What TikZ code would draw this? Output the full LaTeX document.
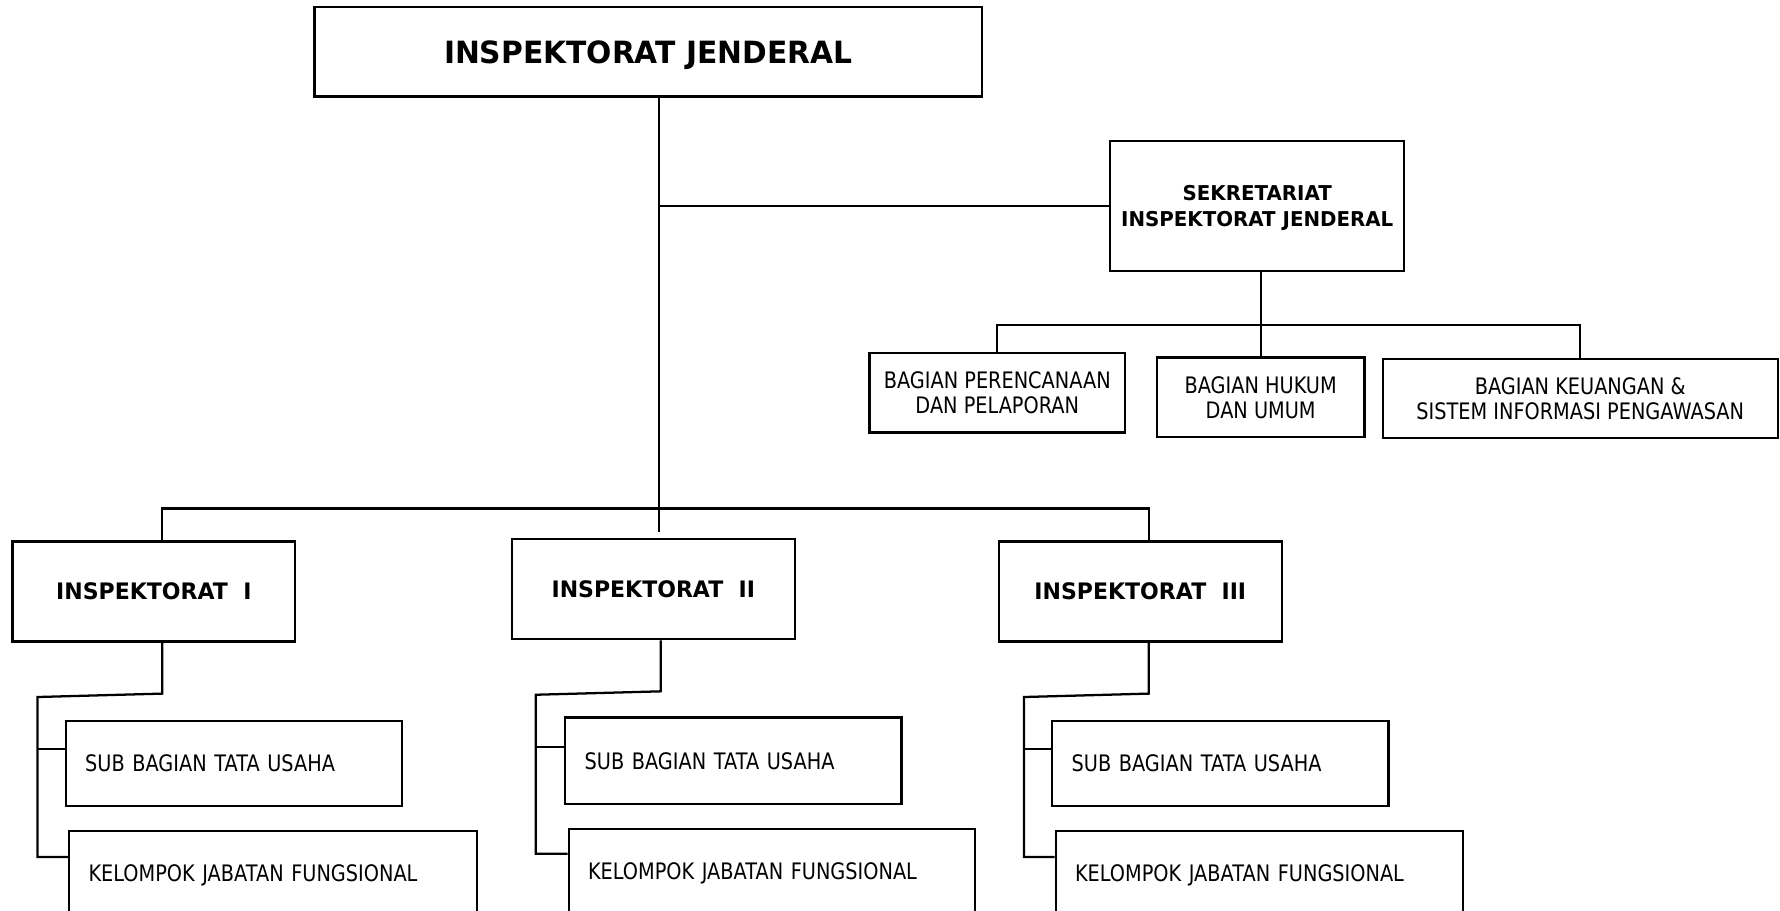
\documentclass[tikz,border=0pt]{standalone}
\usepackage{fontspec}
\setmainfont{DejaVu Sans}[FakeStretch=0.85]
\newfontfamily\hdfont{DejaVu Sans}[FakeStretch=0.97]
\usetikzlibrary{calc}
\begin{document}
\begin{tikzpicture}[x=0.5pt,y=-0.5pt,
  conn/.style={line width=1pt},
  cbox/.style={draw,line width=1pt,align=center,inner sep=0pt,text depth=0pt,font=\fontsize{10}{11}\selectfont},
  hbox/.style={draw,line width=1pt,align=center,inner sep=0pt,text depth=0pt,font=\hdfont\bfseries},
  lbox/.style={draw,line width=1pt,align=left,inner xsep=8.5pt,inner ysep=0pt,text depth=0pt,font=\fontsize{10}{11}\selectfont}]
\useasboundingbox (0,0) rectangle (1568,802);
\clip (0,0) rectangle (1568,802);
% top level
\node[hbox,minimum width=294pt,minimum height=39.5pt,font=\hdfont\bfseries\fontsize{13.5}{15}\selectfont] (ij) at (571,45.5) {INSPEKTORAT JENDERAL};
\node[hbox,minimum width=129.5pt,minimum height=57.5pt,text depth=-2pt,font=\hdfont\bfseries\fontsize{9}{11.5}\selectfont] (sek) at (1107.5,181.5) {SEKRETARIAT\\INSPEKTORAT JENDERAL};
% bagian
\node[cbox,minimum width=112.5pt,minimum height=35pt,text depth=-2.5pt] (bp) at (878.5,346) {BAGIAN PERENCANAAN\\DAN PELAPORAN};
\node[cbox,minimum width=91.5pt,minimum height=35pt] (bh) at (1110.5,350) {BAGIAN HUKUM\\DAN UMUM};
\node[cbox,minimum width=174pt,minimum height=35pt] (bk) at (1392,351) {BAGIAN KEUANGAN \&\\SISTEM INFORMASI PENGAWASAN};
% inspektorat
\node[hbox,minimum width=124.5pt,minimum height=44pt,text depth=-1.5pt,font=\hdfont\bfseries\fontsize{10}{12}\selectfont] (i1) at (135.5,521) {INSPEKTORAT\ \ I};
\node[hbox,minimum width=124.5pt,minimum height=44pt,font=\hdfont\bfseries\fontsize{10}{12}\selectfont] (i2) at (575.5,519) {INSPEKTORAT\ \ II};
\node[hbox,minimum width=124.5pt,minimum height=44pt,text depth=-1.5pt,font=\hdfont\bfseries\fontsize{10}{12}\selectfont] (i3) at (1004.5,521) {INSPEKTORAT\ \ III};
% sub units
\node[lbox,text width=131pt,minimum height=37.5pt,text depth=-1.5pt] (s1) at (206,672.5) {SUB BAGIAN TATA USAHA};
\node[lbox,text width=162.5pt,minimum height=37pt] (k1) at (240.5,769) {KELOMPOK JABATAN FUNGSIONAL};
\node[lbox,text width=131pt,minimum height=38pt,text depth=-1.5pt] (s2) at (646,670) {SUB BAGIAN TATA USAHA};
\node[lbox,text width=162pt,minimum height=37pt] (k2) at (680,767) {KELOMPOK JABATAN FUNGSIONAL};
\node[lbox,text width=131pt,minimum height=37.5pt,text depth=-1.5pt] (s3) at (1075,672.5) {SUB BAGIAN TATA USAHA};
\node[lbox,text width=162.5pt,minimum height=37pt] (k3) at (1109.5,769) {KELOMPOK JABATAN FUNGSIONAL};
% coordinates
\coordinate (bus) at (580.5,448);
\coordinate (sbar) at (1111,286);
\coordinate (b1) at (143,448);
\coordinate (b3) at (1012,448);
\coordinate (j1) at (143,611);
\coordinate (l1) at (33,614);
\coordinate (j2) at (582,609);
\coordinate (l2) at (472,612);
\coordinate (j3) at (1012,611);
\coordinate (l3) at (902,614);
\coordinate (s1w) at ($(s1.west)+(0,-12.5)$);
\coordinate (k1w) at ($(k1.west)+(0,-14)$);
\coordinate (s2w) at ($(s2.west)+(0,-12)$);
\coordinate (k2w) at ($(k2.west)+(0,-15)$);
\coordinate (s3w) at ($(s3.west)+(0,-12.5)$);
\coordinate (k3w) at ($(k3.west)+(0,-14)$);
% connectors
\draw[conn] (ij.south -| bus) -- ($(bus |- i2.north)+(0,-5)$);
\draw[conn] (sek.west -| bus) -- (sek.west);
\draw[conn] (sek.south -| bh.north) -- (bh.north);
\draw[conn] (bp.north) -- (bp.north |- sbar) -- (bk.north |- sbar) -- (bk.north);
\draw[conn] (b1 |- i1.north) -- (b1) -- (b3) -- (b3 |- i3.north);
\draw[conn] (j1 |- i1.south) -- (j1) -- (l1) -- (l1 |- k1w) -- (k1w);
\draw[conn] (l1 |- s1w) -- (s1w);
\draw[conn] (j2 |- i2.south) -- (j2) -- (l2) -- (l2 |- k2w) -- (k2w);
\draw[conn] (l2 |- s2w) -- (s2w);
\draw[conn] (j3 |- i3.south) -- (j3) -- (l3) -- (l3 |- k3w) -- (k3w);
\draw[conn] (l3 |- s3w) -- (s3w);
\end{tikzpicture}
\end{document}
